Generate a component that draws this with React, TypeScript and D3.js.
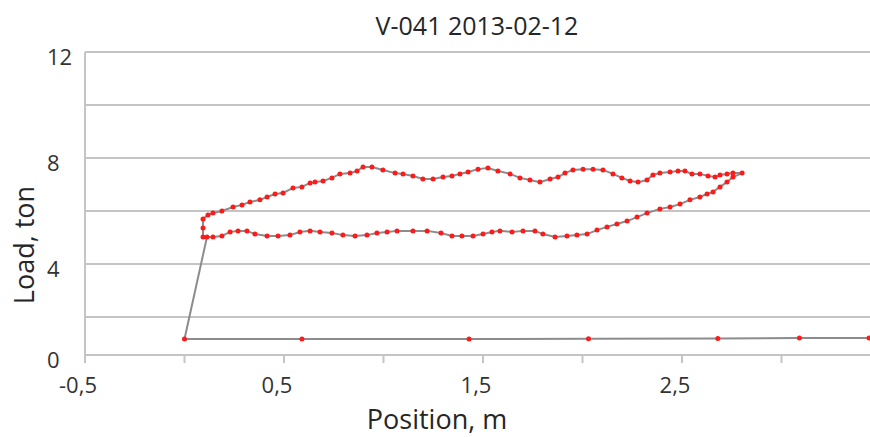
import React from "react";
import * as d3 from "d3";

const TITLE = "V-041 2013-02-12";
const X_TITLE = "Position, m";
const Y_TITLE = "Load, ton";

const yGridValues = [2, 4, 6, 8, 10, 12];
const yTickLabels = [0, 4, 8, 12];
const xTickValues = [-0.5, 0, 0.5, 1, 1.5, 2, 2.5, 3, 3.5];
const xTickLabels = [-0.5, 0.5, 1.5, 2.5];

// baseline (travel at low load), right to left
const baseX = [3.44, 3.09, 2.68, 2.03, 1.43, 0.59, 0.0];
const baseY = [0.89, 0.89, 0.87, 0.86, 0.84, 0.84, 0.84];

// lower branch of loop, left to right
const lowerX = [0.113, 0.143, 0.188, 0.229, 0.269, 0.314, 0.354, 0.415, 0.47, 0.53, 0.58, 0.631, 0.681, 0.741, 0.796, 0.857, 0.917, 0.967, 1.018, 1.068, 1.148, 1.219, 1.289, 1.344, 1.394, 1.45, 1.5, 1.545, 1.585, 1.646, 1.701, 1.761, 1.801, 1.862, 1.922, 1.972, 2.023, 2.073, 2.123, 2.173, 2.224, 2.274, 2.324, 2.389, 2.44, 2.49, 2.54, 2.59, 2.626, 2.656, 2.691, 2.726, 2.756, 2.802];
const lowerY = [5.02, 5.02, 5.06, 5.21, 5.25, 5.25, 5.13, 5.06, 5.06, 5.09, 5.21, 5.25, 5.21, 5.17, 5.09, 5.06, 5.09, 5.17, 5.21, 5.25, 5.25, 5.25, 5.17, 5.06, 5.06, 5.06, 5.13, 5.21, 5.25, 5.21, 5.25, 5.25, 5.13, 5.02, 5.06, 5.09, 5.13, 5.28, 5.4, 5.51, 5.62, 5.77, 5.92, 6.08, 6.15, 6.26, 6.42, 6.53, 6.64, 6.72, 6.91, 7.09, 7.28, 7.43];

// upper branch of loop, right to left
const upperX = [2.756, 2.726, 2.691, 2.666, 2.631, 2.59, 2.55, 2.515, 2.48, 2.44, 2.389, 2.354, 2.324, 2.279, 2.239, 2.198, 2.153, 2.103, 2.053, 2.003, 1.952, 1.912, 1.877, 1.837, 1.786, 1.736, 1.686, 1.636, 1.575, 1.525, 1.475, 1.425, 1.384, 1.344, 1.299, 1.249, 1.198, 1.148, 1.098, 1.058, 0.997, 0.942, 0.897, 0.867, 0.832, 0.781, 0.741, 0.696, 0.656, 0.631, 0.59, 0.545, 0.495, 0.455, 0.415, 0.379, 0.329, 0.289, 0.244, 0.188, 0.143, 0.118, 0.093, 0.093, 0.093];
const upperY = [7.43, 7.4, 7.36, 7.28, 7.32, 7.4, 7.4, 7.51, 7.51, 7.47, 7.43, 7.36, 7.17, 7.09, 7.13, 7.25, 7.4, 7.55, 7.58, 7.58, 7.55, 7.43, 7.28, 7.21, 7.09, 7.17, 7.25, 7.4, 7.51, 7.62, 7.58, 7.47, 7.4, 7.32, 7.28, 7.21, 7.21, 7.32, 7.4, 7.43, 7.55, 7.66, 7.66, 7.51, 7.43, 7.4, 7.25, 7.13, 7.09, 7.06, 6.91, 6.87, 6.68, 6.64, 6.53, 6.42, 6.34, 6.23, 6.15, 6.0, 5.92, 5.85, 5.7, 5.36, 5.02];

const W = 870;
const H = 437;
const FONT = "'Open Sans', 'DejaVu Sans', sans-serif";

export default function App() {
  const x = d3.scaleLinear().domain([-0.5, 3.5]).range([85, 881]);
  const y = d3.scaleLinear().domain([0, 2, 12]).range([355, 317, 52]);

  const pts: [number, number][] = [];
  baseX.forEach((v, i) => pts.push([v, baseY[i]]));
  lowerX.forEach((v, i) => pts.push([v, lowerY[i]]));
  upperX.forEach((v, i) => pts.push([v, upperY[i]]));

  const line = d3
    .line<[number, number]>()
    .x((d) => x(d[0]))
    .y((d) => y(d[1]));

  const fmt = (v: number) => String(v).replace(".", ",");
  const gridColor = "#c4c4c4";
  const left = x(-0.5);

  return (
    <svg
      width={W}
      height={H}
      style={{ position: "absolute", left: 0, top: 0, background: "#fff" }}
      fontFamily={FONT}
    >
      <defs>
        <clipPath id="plotClip">
          <rect x={0} y={0} width={W} height={H} />
        </clipPath>
      </defs>
      <text x={477} y={35} textAnchor="middle" fontSize={25} fill="#262626">
        {TITLE}
      </text>

      {yGridValues.map((v) => (
        <line key={v} x1={left} x2={W} y1={y(v)} y2={y(v)} stroke={gridColor} strokeWidth={2} />
      ))}
      <line x1={left} x2={W} y1={y(0)} y2={y(0)} stroke={gridColor} strokeWidth={2} />
      <line x1={left} x2={left} y1={y(12)} y2={y(0)} stroke={gridColor} strokeWidth={2} />
      {xTickValues.map((v) => (
        <line key={v} x1={x(v)} x2={x(v)} y1={y(0)} y2={y(0) + 8} stroke={gridColor} strokeWidth={2} />
      ))}

      {yTickLabels.map((v) => (
        <text key={v} x={47} y={y(v) + 4} dominantBaseline="central" fontSize={22} fill="#333">
          {v}
        </text>
      ))}
      {xTickLabels.map((v) => (
        <text key={v} x={x(v) - 7} y={393} textAnchor="middle" fontSize={22} fill="#333">
          {fmt(v)}
        </text>
      ))}

      <text x={437} y={429} textAnchor="middle" fontSize={27} fill="#262626">
        {X_TITLE}
      </text>
      <text
        transform={`translate(34,245) rotate(-90)`}
        textAnchor="middle"
        fontSize={27}
        fill="#262626"
      >
        {Y_TITLE}
      </text>

      <g clipPath="url(#plotClip)">
        <path d={line(pts) || ""} fill="none" stroke="#8c8c8c" strokeWidth={2} />
        {pts.map((d, i) => (
          <circle key={i} cx={x(d[0])} cy={y(d[1])} r={2.5} fill="#ff1a1a" />
        ))}
      </g>
    </svg>
  );
}
